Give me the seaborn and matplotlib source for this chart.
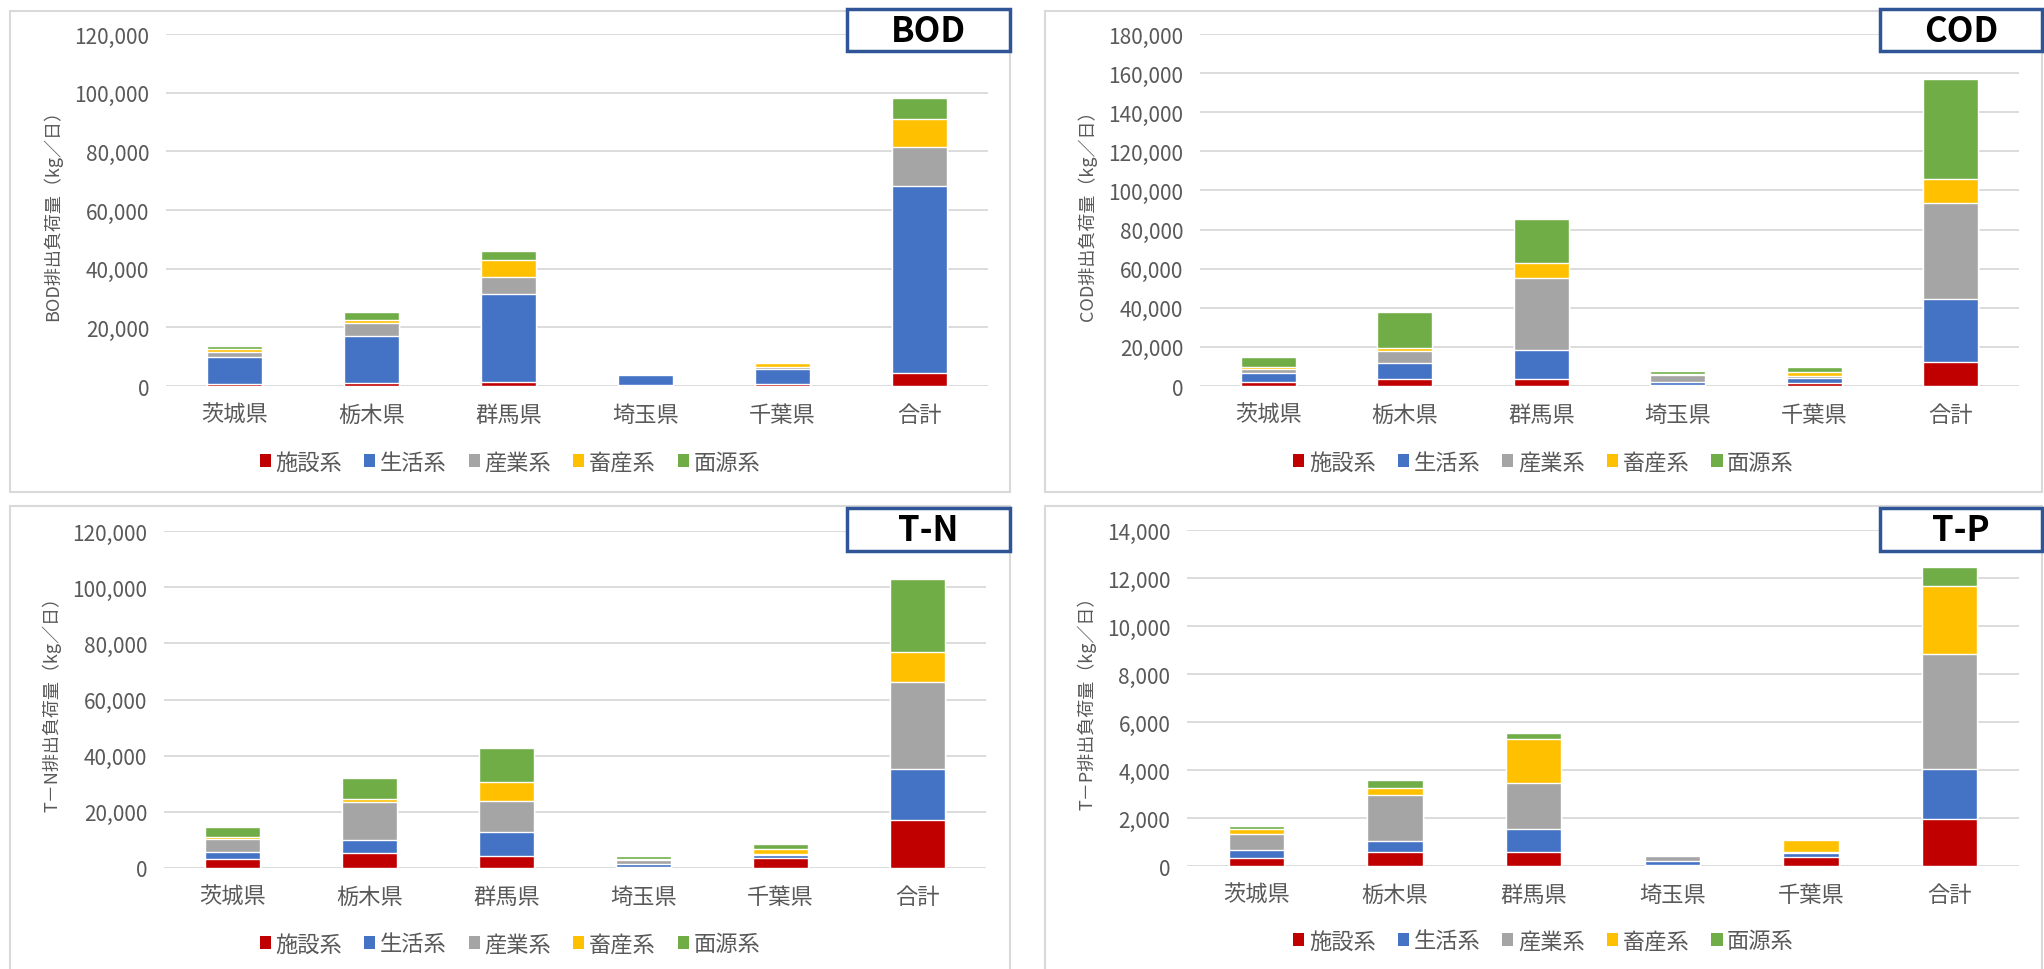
"""Stacked load charts (BOD / COD / T-N / T-P) by prefecture."""

import matplotlib

matplotlib.use("Agg", force=True)

import matplotlib.pyplot as plt
import numpy as np
import seaborn as sns
from matplotlib.patches import Patch, Rectangle
from matplotlib.ticker import FuncFormatter

prefectures = ["茨城県", "栃木県", "群馬県", "埼玉県", "千葉県", "合計"]
sources = ["施設系", "生活系", "産業系", "畜産系", "面源系"]
colors = ["#C00000", "#4472C4", "#A5A5A5", "#FFC000", "#70AD47"]

# values, kg/day, order: 施設 生活 産業 畜産 面源
bod = {
    "施設系": [800, 1100, 1250, 200, 570, 4320],
    "生活系": [9100, 15850, 30040, 3440, 5230, 63940],
    "産業系": [1700, 4650, 5900, 560, 570, 13310],
    "畜産系": [1100, 1050, 5700, 240, 1370, 9440],
    "面源系": [800, 2500, 3060, 220, 450, 7170],
}
cod = {
    "施設系": [2050, 3760, 3420, 340, 1710, 12300],
    "生活系": [4610, 8020, 15030, 1540, 2560, 32280],
    "産業系": [2050, 6150, 36550, 3930, 680, 48840],
    "畜産系": [1020, 1370, 7850, 340, 2050, 12470],
    "面源系": [5300, 18610, 22370, 1360, 2900, 50900],
}
tn = {
    "施設系": [3320, 5330, 4270, 350, 3440, 16940],
    "生活系": [2480, 4500, 8530, 1070, 1300, 18250],
    "産業系": [4510, 13630, 11020, 1540, 360, 31160],
    "畜産系": [590, 1180, 6870, 240, 1770, 10550],
    "面源系": [3670, 7470, 12080, 1070, 1660, 26180],
}
tp = {
    "施設系": [350, 570, 570, 40, 380, 1970],
    "生活系": [300, 490, 960, 170, 150, 2090],
    "産業系": [680, 1880, 1930, 190, 50, 4790],
    "畜産系": [200, 310, 1830, 40, 490, 2800],
    "面源系": [120, 330, 240, 50, 10, 790],
}

W, H = 2044, 970
sns.set_theme(style="white")
plt.rcParams["font.family"] = ["Noto Sans CJK JP", "DejaVu Sans"]
TXT = "#595959"


def fx(x):
    return x / W


def fy(y):
    return 1 - y / H


fig = plt.figure(figsize=(W / 100, H / 100), dpi=100)

panels = [
    # name, data, ymax, step, axes px (l, t, r, b), panel px (l, t, r, b), title box px
    ("BOD", bod, 120000, 20000, (166, 35, 988, 387), (10, 12, 1010, 493), (847, 10, 1010, 52), 463),
    ("COD", cod, 180000, 20000, (1200, 35, 2019, 387), (1045, 12, 2042, 493), (1880, 10, 2042, 52), 463),
    ("T-N", tn, 120000, 20000, (164, 532, 986, 869), (10, 507, 1010, 975), (847, 509, 1010, 552), 945),
    ("T-P", tp, 14000, 2000, (1187, 531, 2019, 867), (1045, 507, 2042, 975), (1880, 509, 2042, 552), 942),
]
ylabels = {
    "BOD": "BOD排出負荷量（kg／日）",
    "COD": "COD排出負荷量（kg／日）",
    "T-N": "T－N排出負荷量（kg／日）",
    "T-P": "T－P排出負荷量（kg／日）",
}

for name, data, ymax, step, apx, ppx, bpx, leg_y in panels:
    l, t, r, b = apx
    ax = fig.add_axes([fx(l), fy(b), fx(r) - fx(l), fy(t) - fy(b)])

    # stacked bars: draw cumulative totals from the top layer down
    cum = np.cumsum([data[s] for s in sources], axis=0)
    for i in range(len(sources) - 1, -1, -1):
        sns.barplot(x=prefectures, y=cum[i], color=colors[i], width=0.4,
                    saturation=1, ax=ax, zorder=2)

    ax.set_ylim(0, ymax)
    ax.set_yticks(np.arange(0, ymax + 1, step))
    ax.yaxis.set_major_formatter(FuncFormatter(lambda v, p: f"{int(v):,}"))
    ax.grid(axis="y", color="#D9D9D9", linewidth=1.3, zorder=0)
    ax.set_axisbelow(True)
    for sp in ax.spines.values():
        sp.set_visible(False)
    ax.tick_params(axis="both", length=0, colors=TXT)
    ax.tick_params(axis="y", labelsize=15, pad=12)
    ax.tick_params(axis="x", labelsize=16, pad=12)
    ax.set_xlabel("")
    ax.set_ylabel("")

    # y label
    fig.text(fx(ppx[0] + 42), fy((t + b) / 2), ylabels[name], rotation=90,
             ha="center", va="center", fontsize=13, color=TXT)

    # panel border
    pl, pt, pr, pb = ppx
    fig.add_artist(Rectangle((fx(pl), fy(pb)), fx(pr) - fx(pl), fy(pt) - fy(pb),
                             transform=fig.transFigure, fill=False,
                             edgecolor="#D9D9D9", linewidth=1.5))

    # title box
    bl, bt, br, bb = bpx
    fig.add_artist(Rectangle((fx(bl), fy(bb)), fx(br) - fx(bl), fy(bt) - fy(bb),
                             transform=fig.transFigure, facecolor="white",
                             edgecolor="#2F5597", linewidth=2.5, zorder=3))
    fig.text(fx((bl + br) / 2), fy((bt + bb) / 2), name, ha="center", va="center",
             fontsize=25, fontweight="bold", color="black", zorder=4)

    # legend
    handles = [Patch(facecolor=c, edgecolor="none", label=s) for s, c in zip(sources, colors)]
    fig.legend(handles=handles, loc="center", ncol=5, frameon=False,
               bbox_to_anchor=(fx((pl + pr) / 2), fy(leg_y)), fontsize=16,
               labelcolor=TXT, handlelength=0.5, handleheight=0.5,
               handletextpad=0.2, columnspacing=1.0)

fig.savefig("out.png", dpi=100)
plt.close(fig)
